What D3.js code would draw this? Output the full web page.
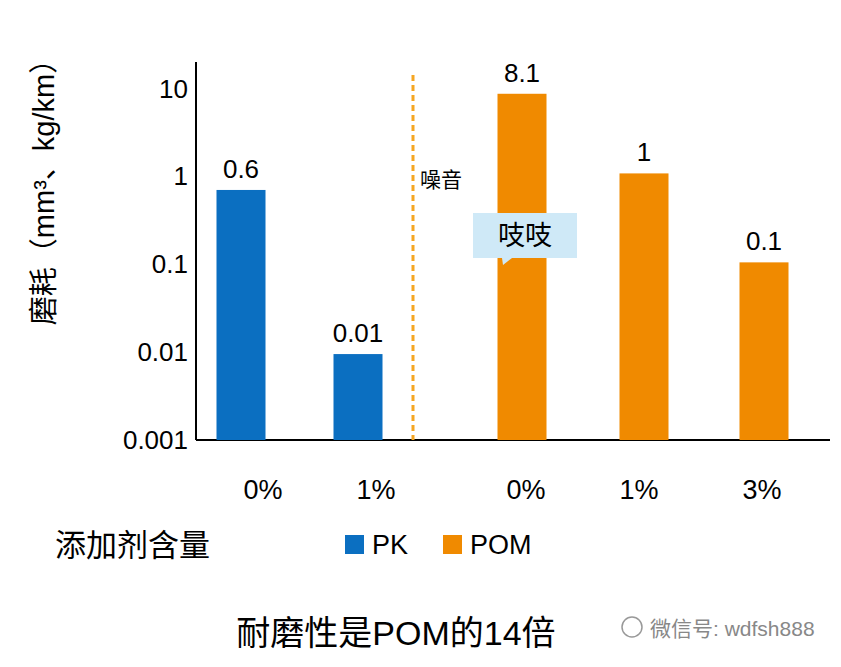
<!DOCTYPE html>
<html><head><meta charset="utf-8">
<script src="https://cdn.jsdelivr.net/npm/d3@7"></script>
<style>body{margin:0;background:#fff}text{font-family:"Liberation Sans","Noto Sans CJK SC",sans-serif}</style>
</head><body><div id="chart"></div>
<script>
// categories and series
const categories = ["PK 0%", "PK 1%", "POM 0%", "POM 1%", "POM 3%"];
const tickLabels = ["0%", "1%", "0%", "1%", "3%"];
const series = ["PK", "PK", "POM", "POM", "POM"];
const wear = [0.7, 0.0095, 8.7, 1.08, 0.105];
const wearLabels = ["0.6", "0.01", "8.1", "1", "0.1"];
const yTicks = [0.001, 0.01, 0.1, 1, 10];
const centers = [241, 358, 522, 644, 764];
const tickShift = [22, 18, 4, -5, -2];

const colors = {PK: "#0b6fc1", POM: "#f08a00"};
const W = 841, H = 667;
const svg = d3.select("#chart").append("svg").attr("width", W).attr("height", H);

const y = d3.scaleLog().domain([0.001, 20]).range([440, 62]);
const x = d3.scaleOrdinal().domain(categories).range(centers);
const bw = 49;

// axes
svg.append("line").attr("x1", 196).attr("x2", 196).attr("y1", 62).attr("y2", 440)
  .attr("stroke", "#000").attr("stroke-width", 2);
svg.append("line").attr("x1", 196).attr("x2", 830).attr("y1", 440).attr("y2", 440)
  .attr("stroke", "#000").attr("stroke-width", 2);
svg.selectAll(".yt").data(yTicks).join("text")
  .attr("x", 188).attr("y", d => y(d)).attr("dy", "0.35em")
  .attr("text-anchor", "end").attr("font-size", 26).text(d => d3.format("~g")(d));

// bars
svg.selectAll(".bar").data(categories).join("rect")
  .attr("x", d => x(d) - bw / 2).attr("width", bw)
  .attr("y", (d, i) => y(wear[i])).attr("height", (d, i) => 440 - y(wear[i]))
  .attr("fill", (d, i) => colors[series[i]]);
svg.selectAll(".lbl").data(categories).join("text")
  .attr("x", d => x(d)).attr("y", (d, i) => y(wear[i]) - 12)
  .attr("text-anchor", "middle").attr("font-size", 26).text((d, i) => wearLabels[i]);
svg.selectAll(".xt").data(categories).join("text")
  .attr("x", (d, i) => x(d) + tickShift[i]).attr("y", 499)
  .attr("text-anchor", "middle").attr("font-size", 27).text((d, i) => tickLabels[i]);

// divider
svg.append("line").attr("x1", 413).attr("x2", 413).attr("y1", 75).attr("y2", 440)
  .attr("stroke", "#f5a623").attr("stroke-width", 3).attr("stroke-dasharray", "6,4");
svg.append("text").attr("x", 420).attr("y", 187).attr("font-size", 21).text("噪音");

// callout
svg.append("path").attr("d", "M473,213 H577 V258 H512 L503,265 L502,258 H473 Z")
  .attr("fill", "#cfe9f7");
svg.append("text").attr("x", 525).attr("y", 236).attr("dy", "0.35em")
  .attr("text-anchor", "middle").attr("font-size", 27).text("吱吱");

// y label
svg.append("text").attr("transform", "translate(54,185) rotate(-90)")
  .attr("text-anchor", "middle").attr("font-size", 29).text("磨耗（mm³、kg/km）");

// legend
svg.append("text").attr("x", 55).attr("y", 556).attr("font-size", 31).text("添加剂含量");
[["PK", 345], ["POM", 443]].forEach(([k, lx]) => {
  svg.append("rect").attr("x", lx).attr("y", 535).attr("width", 19).attr("height", 19).attr("fill", colors[k]);
  svg.append("text").attr("x", lx + 27).attr("y", 554).attr("font-size", 27).text(k);
});

// title and watermark
svg.append("text").attr("x", 396).attr("y", 645).attr("text-anchor", "middle")
  .attr("font-size", 34).text("耐磨性是POM的14倍");
svg.append("circle").attr("cx", 632).attr("cy", 627).attr("r", 10).attr("fill", "none").attr("stroke", "#999").attr("stroke-width", 1.5);
svg.append("text").attr("x", 650).attr("y", 636).attr("font-size", 21).attr("fill", "#888").text("微信号: wdfsh888");
</script></body></html>
